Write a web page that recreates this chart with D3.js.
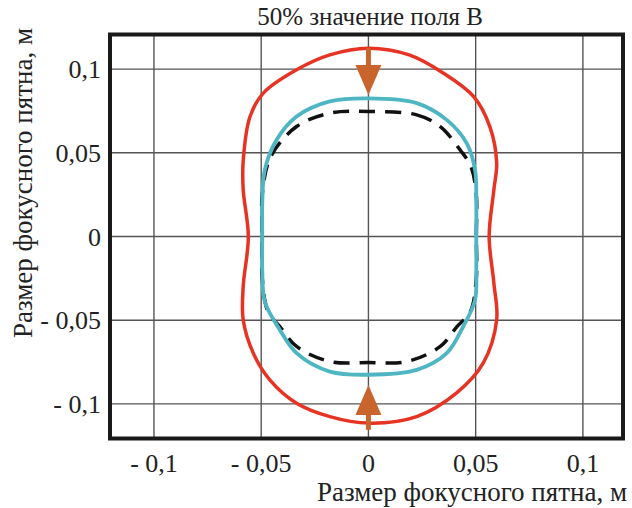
<!DOCTYPE html>
<html lang="ru">
<head>
    <meta charset="UTF-8">
    <title>50% значение поля B</title>
    <style>
        body, html {
            margin: 0;
            padding: 0;
            background: #ffffff;
            overflow: hidden;
        }
        .grid line {
            stroke: #555;
            stroke-width: 1.4px;
        }
        .frame {
            fill: none;
            stroke: #1a1a1a;
            stroke-width: 4px;
        }
    </style>
</head>
<body>
    <div id="chart"></div>
    <script src="https://d3js.org/d3.v7.min.js"></script>
    <script>
        // tick values and their labels
        const ticks = [-0.1, -0.05, 0, 0.05, 0.1];
        const tickLabels = ['- 0,1', '- 0,05', '0', '0,05', '0,1'];

        // outer (red) contour
        const redX = [0, 0.019, 0.035, 0.049, 0.0566, 0.0598, 0.0585, 0.0563, 0.0585, 0.0598, 0.0535, 0.041, 0.0225,
                      0, -0.018, -0.0335, -0.046, -0.0537, -0.0584, -0.0584, -0.056, -0.0584, -0.0584, -0.0552, -0.049, -0.0335, -0.018];
        const redY = [0.1125, 0.1085, 0.0976, 0.0837, 0.0657, 0.044, 0.028, 0, -0.028, -0.0498, -0.0757, -0.0936, -0.1076,
                      -0.1115, -0.1076, -0.0996, -0.0856, -0.0697, -0.0498, -0.03, 0, 0.028, 0.045, 0.0717, 0.0857, 0.0996, 0.1085];

        // cyan contour
        const cyanX = [0, 0.0225, 0.0365, 0.0458, 0.0497, 0.0503, 0.0503, 0.0503, 0.0497, 0.0442, 0.0365, 0.0225,
                       0, -0.018, -0.0335, -0.0413, -0.0483, -0.0495, -0.0495, -0.0495, -0.0483, -0.0428, -0.0335, -0.018];
        const cyanY = [0.0825, 0.0797, 0.0697, 0.0558, 0.0399, 0.02, 0, -0.02, -0.038, -0.0538, -0.0697, -0.0797,
                       -0.0826, -0.0807, -0.0697, -0.0558, -0.039, -0.02, 0, 0.02, 0.0399, 0.0578, 0.0717, 0.0807];

        // dashed contour (sides run under the cyan one)
        const dashX = [0, 0.0225, 0.0335, 0.0427, 0.0478, 0.0503, 0.0503, 0.0503, 0.0475, 0.0413, 0.0335, 0.018,
                       0, -0.018, -0.0335, -0.0413, -0.0468, -0.0495, -0.0495, -0.0495, -0.0455, -0.0335, -0.018];
        const dashY = [0.0747, 0.0727, 0.0657, 0.0518, 0.0418, 0.025, 0, -0.025, -0.045, -0.0538, -0.0657, -0.0747,
                       -0.0753, -0.0747, -0.0657, -0.0538, -0.045, -0.025, 0, 0.025, 0.0478, 0.0657, 0.0737];

        // arrows: start (on red) and tip (near cyan)
        const arrowX = [0, 0];
        const arrowFrom = [0.1125, -0.1155];
        const arrowTo = [0.0845, -0.0888];

        const width = 632, height = 508;
        const margin = { left: 110, right: 9, top: 34.5, bottom: 69.5 };
        const serif = '"Liberation Serif", "Times New Roman", "DejaVu Serif", serif';

        const svg = d3.select('#chart').append('svg')
            .attr('width', width)
            .attr('height', height)
            .attr('font-family', serif)
            .attr('fill', '#222');

        const x = d3.scaleLinear()
            .domain([-0.1205, 0.1187])
            .range([margin.left, width - margin.right]);
        const y = d3.scaleLinear()
            .domain([-0.1207, 0.1207])
            .range([height - margin.bottom, margin.top]);

        // grid
        const grid = svg.append('g').attr('class', 'grid');
        grid.selectAll('line.v')
            .data(ticks)
            .enter().append('line')
            .attr('class', 'v')
            .attr('x1', d => x(d)).attr('x2', d => x(d))
            .attr('y1', y.range()[1]).attr('y2', y.range()[0]);
        grid.selectAll('line.h')
            .data(ticks)
            .enter().append('line')
            .attr('class', 'h')
            .attr('y1', d => y(d)).attr('y2', d => y(d))
            .attr('x1', x.range()[0]).attr('x2', x.range()[1]);

        const line = d3.line()
            .x(d => x(d[0]))
            .y(d => y(d[1]))
            .curve(d3.curveCatmullRomClosed.alpha(0.5));

        svg.append('path')
            .attr('d', line(d3.zip(dashX, dashY)))
            .attr('fill', 'none')
            .attr('stroke', '#111')
            .attr('stroke-width', 3.5)
            .attr('stroke-dasharray', '16,10');

        svg.append('path')
            .attr('d', line(d3.zip(cyanX, cyanY)))
            .attr('fill', 'none')
            .attr('stroke', '#4db6c2')
            .attr('stroke-width', 3.8);

        svg.append('path')
            .attr('d', line(d3.zip(redX, redY)))
            .attr('fill', 'none')
            .attr('stroke', '#e63323')
            .attr('stroke-width', 3.5);

        // arrows
        const arrowColor = '#c8642c';
        const headLen = 30, headHalf = 13;
        arrowX.forEach((ax, i) => {
            const px = x(ax);
            const y0 = y(arrowFrom[i]);
            const y1 = y(arrowTo[i]);
            const dir = y1 > y0 ? 1 : -1;
            const base = y1 - dir * headLen;
            svg.append('line')
                .attr('x1', px).attr('x2', px)
                .attr('y1', y0).attr('y2', base + dir * 2)
                .attr('stroke', arrowColor)
                .attr('stroke-width', 5);
            svg.append('path')
                .attr('d', `M${px - headHalf},${base} L${px + headHalf},${base} L${px},${y1} Z`)
                .attr('fill', arrowColor);
        });

        // frame
        svg.append('rect')
            .attr('class', 'frame')
            .attr('x', x.range()[0])
            .attr('y', y.range()[1])
            .attr('width', x.range()[1] - x.range()[0])
            .attr('height', y.range()[0] - y.range()[1]);

        // tick labels
        svg.selectAll('text.xt')
            .data(ticks)
            .enter().append('text')
            .attr('class', 'xt')
            .attr('x', d => x(d))
            .attr('y', 472)
            .attr('text-anchor', 'middle')
            .attr('font-size', 26)
            .text((d, i) => tickLabels[i]);

        svg.selectAll('text.yt')
            .data(ticks)
            .enter().append('text')
            .attr('class', 'yt')
            .attr('x', 101)
            .attr('y', d => y(d))
            .attr('dy', '0.35em')
            .attr('text-anchor', 'end')
            .attr('font-size', 26)
            .text((d, i) => tickLabels[i]);

        // titles
        svg.append('text')
            .attr('x', 370)
            .attr('y', 25)
            .attr('text-anchor', 'middle')
            .attr('font-size', 25)
            .text('50% значение поля B');

        svg.append('text')
            .attr('x', 627)
            .attr('y', 501)
            .attr('text-anchor', 'end')
            .attr('font-size', 27)
            .text('Размер фокусного пятна, м');

        svg.append('text')
            .attr('transform', 'translate(32,183) rotate(-90)')
            .attr('text-anchor', 'middle')
            .attr('font-size', 27)
            .text('Размер фокусного пятна, м');
    </script>
</body>
</html>
